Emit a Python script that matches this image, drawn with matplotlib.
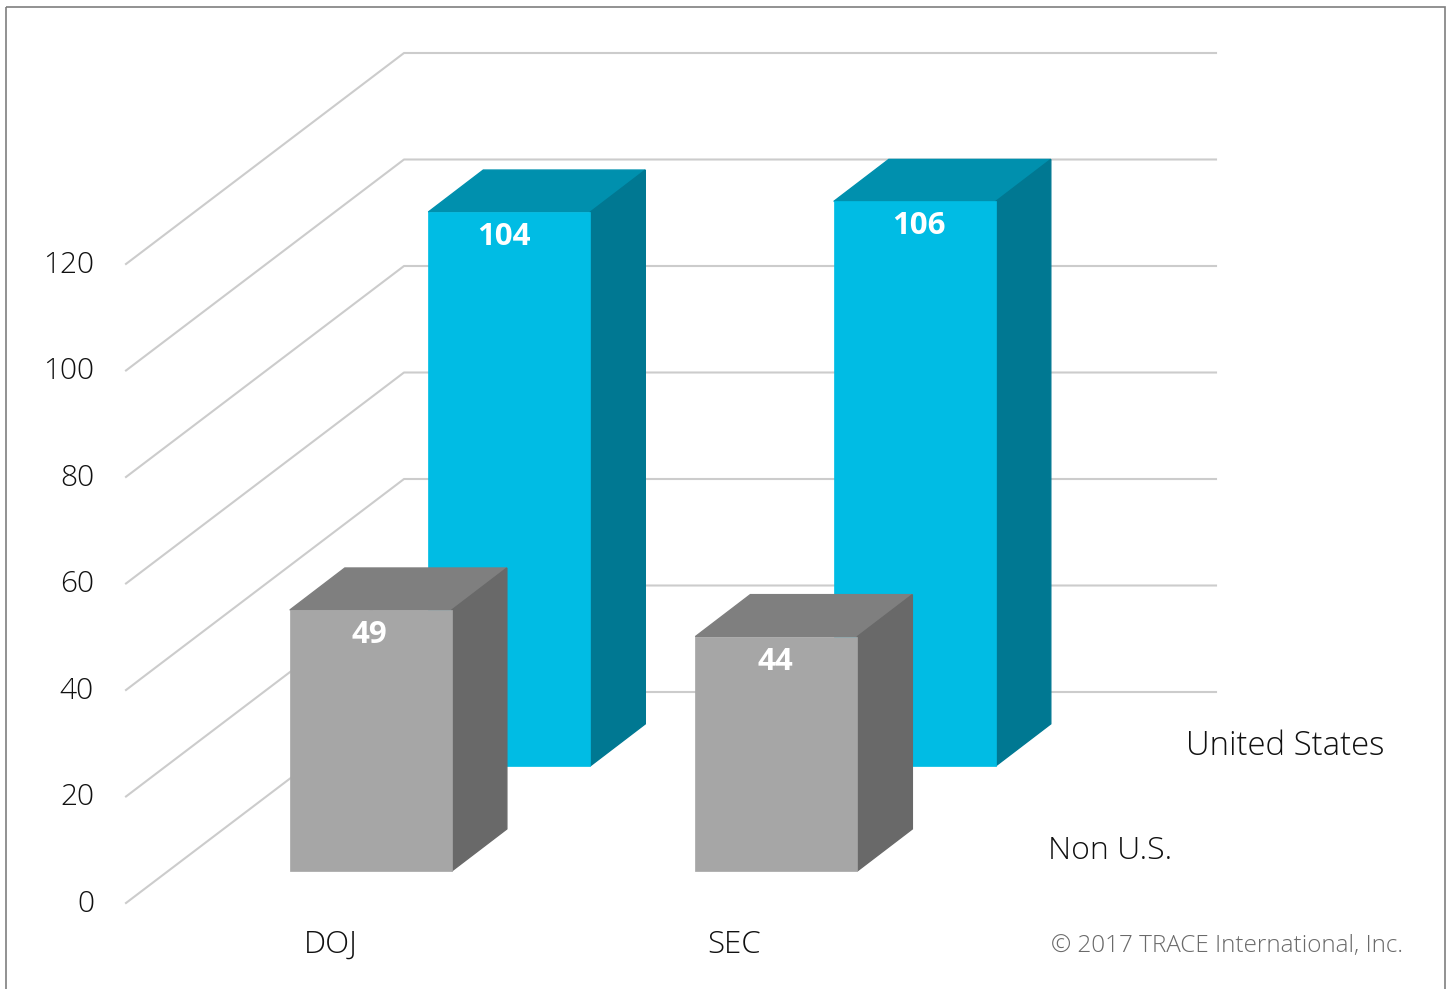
import matplotlib
matplotlib.use("Agg")
import matplotlib.pyplot as plt
from matplotlib.patches import Polygon, Rectangle

categories = ["DOJ", "SEC"]
series_names = ["Non U.S.", "United States"]
non_us = [49, 44]
united_states = [104, 106]
y_ticks = [0, 20, 40, 60, 80, 100, 120]

W, H = 1449, 989
PX_PER_UNIT = 5.325
Y0 = 903.0
X0 = 126.0
WALL_DX, WALL_DY = 278.0, 211.0
BAR_W = 162.0
BAR_DX, BAR_DY = 55.0, 42.0
TEXT_COLOR = "#111111"


def pt(x, val, depth=0.0):
    # oblique projection, depth is a fraction of the floor
    return (x + WALL_DX * depth, Y0 - val * PX_PER_UNIT - WALL_DY * depth)


plt.rcParams["font.family"] = ["Open Sans", "DejaVu Sans"]
fig = plt.figure(figsize=(W / 100, H / 100), dpi=100)
ax = fig.add_axes([0, 0, 1, 1])
ax.set_xlim(0, W)
ax.set_ylim(H, 0)
ax.axis("off")

ax.add_patch(Rectangle((6, 7), 1439, 1000, fill=False, ec="#7f7f7f", lw=1.2))

# grid on side wall and back wall
for v in y_ticks:
    ax.plot(*zip(pt(X0, v, 0), pt(X0, v, 1), (1216, pt(X0, v, 1)[1])),
            color="#cccccc", lw=1.5, zorder=1)
    ax.text(94, pt(X0, v)[1] + 1, str(v), ha="right", va="center",
            fontsize=21.5, color=TEXT_COLOR, fontweight="light")


def draw_bar(x, val, depth, label_dx, front, top, side, z):
    x0 = pt(x, 0, depth)[0] - 0.4
    base = pt(x, 0, depth)[1]
    ytop = pt(x, val, depth)[1]
    # same colour edges hide the seams between faces
    ax.add_patch(Rectangle((x0, ytop), BAR_W, base - ytop, fc=front, ec=front, lw=0.5, zorder=z + 1))
    ax.add_patch(Polygon([(x0, ytop), (x0 + BAR_W, ytop),
                          (x0 + BAR_W + BAR_DX, ytop - BAR_DY), (x0 + BAR_DX, ytop - BAR_DY)],
                         fc=top, ec=top, lw=1.0, zorder=z))
    ax.add_patch(Polygon([(x0 + BAR_W, ytop), (x0 + BAR_W + BAR_DX, ytop - BAR_DY),
                          (x0 + BAR_W + BAR_DX, base - BAR_DY), (x0 + BAR_W, base)],
                         fc=side, ec=side, lw=1.0, zorder=z))
    ax.text(x0 + label_dx, ytop + 25, str(val), ha="center", va="center",
            color="white", fontsize=22.5, fontweight="bold", zorder=z + 2)


cat_x = [248, 653.5]
for x, val, dx in zip(cat_x, united_states, [76, 85]):
    draw_bar(x, val, 0.65, dx, "#00bce4", "#0090ae", "#007892", 3)
for x, val, dx in zip(cat_x, non_us, [80, 80]):
    draw_bar(x, val, 0.152, dx, "#a6a6a6", "#7f7f7f", "#696969", 6)

for x, name in zip([304, 707], categories):
    ax.text(x, 945, name, ha="left", va="center", fontsize=22.5, color=TEXT_COLOR, fontweight="light")
ax.text(1048, 851, series_names[0], ha="left", va="center", fontsize=23, color=TEXT_COLOR, fontweight="light")
ax.text(1186, 746, series_names[1], ha="left", va="center", fontsize=23.7, color=TEXT_COLOR, fontweight="light")
ax.text(1403, 946, "\u00a9 2017 TRACE International, Inc.", ha="right", va="center",
        fontsize=17.5, color="#6a6a6a", fontweight="light")

fig.savefig("out.png", dpi=100)
